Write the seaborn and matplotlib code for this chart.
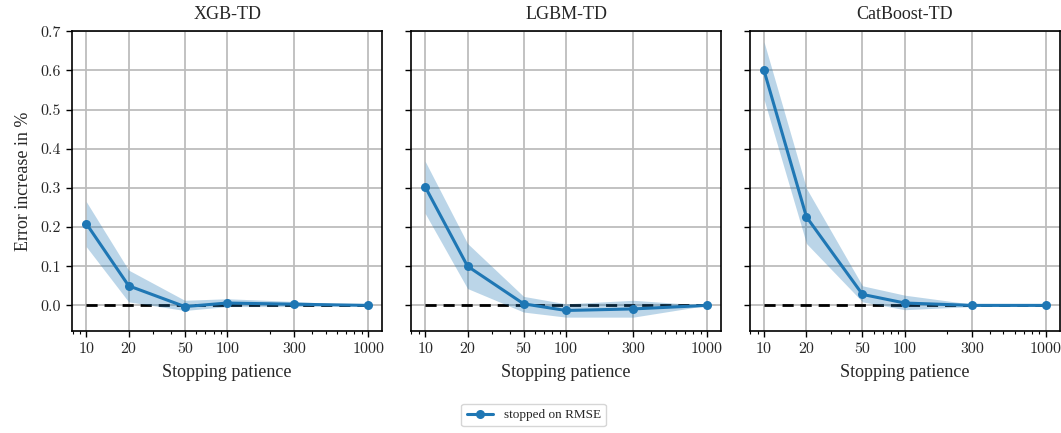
import numpy as np
import seaborn as sns
import matplotlib.pyplot as plt
from matplotlib.ticker import FixedLocator, FixedFormatter, LogLocator, NullFormatter

# values
patience = [10, 20, 50, 100, 300, 1000]
models = ["XGB-TD", "LGBM-TD", "CatBoost-TD"]
xgb_mean = [0.209, 0.050, -0.003, 0.006, 0.003, 0.0]
xgb_lo = [0.150, 0.009, -0.013, -0.003, -0.003, 0.0]
xgb_hi = [0.265, 0.090, 0.013, 0.017, 0.010, 0.0]
lgbm_mean = [0.303, 0.100, 0.004, -0.013, -0.009, 0.0]
lgbm_lo = [0.235, 0.043, -0.017, -0.030, -0.030, 0.0]
lgbm_hi = [0.368, 0.158, 0.023, 0.004, 0.013, 0.0]
cat_mean = [0.600, 0.226, 0.028, 0.006, 0.0, 0.0]
cat_lo = [0.526, 0.158, 0.009, -0.011, -0.003, 0.0]
cat_hi = [0.673, 0.299, 0.050, 0.026, 0.003, 0.0]
xtick_labels = ["10", "20", "50", "100", "300", "1000"]
ytick_vals = [0.0, 0.1, 0.2, 0.3, 0.4, 0.5, 0.6, 0.7]

sns.set_style("ticks")
plt.rcParams['font.family'] = ['Liberation Serif', 'DejaVu Serif']

series = [(xgb_mean, xgb_lo, xgb_hi), (lgbm_mean, lgbm_lo, lgbm_hi), (cat_mean, cat_lo, cat_hi)]
blue = "#1f77b4"

fig, axes = plt.subplots(1, 3, figsize=(10.61, 4.33), dpi=100, sharey=True)
fig.subplots_adjust(left=0.068, right=0.999, top=0.928, bottom=0.235, wspace=0.093)

for ax, name, (m, lo, hi) in zip(axes, models, series):
    ax.set_xscale("log")
    ax.grid(True, which="major", color="#bdbdbd", lw=1.3)
    ax.set_axisbelow(True)
    ax.plot([patience[0], patience[-1]], [0, 0], color="k", ls="--", lw=2, dashes=(4, 2.5), zorder=2)
    ax.fill_between(patience, lo, hi, color=blue, alpha=0.3, lw=0, zorder=3)
    sns.lineplot(x=patience, y=m, ax=ax, color=blue, lw=2.2, marker="o", markersize=6.5,
                 markeredgewidth=0, label="stopped on RMSE", legend=False, zorder=4)
    ax.set_ylim(-0.066, 0.7)
    ax.xaxis.set_major_locator(FixedLocator(patience))
    ax.xaxis.set_major_formatter(FixedFormatter(xtick_labels))
    ax.xaxis.set_minor_locator(LogLocator(base=10, subs=np.arange(2, 10), numticks=20))
    ax.xaxis.set_minor_formatter(NullFormatter())
    ax.yaxis.set_major_locator(FixedLocator(ytick_vals))
    ax.yaxis.set_major_formatter(FixedFormatter(["%.1f" % v for v in ytick_vals]))
    ax.tick_params(which="major", length=4.5, width=1, labelsize=11.5, color="k")
    ax.tick_params(which="minor", length=2.5, width=0.8, color="k")
    for lab in ax.get_xticklabels() + ax.get_yticklabels():
        lab.set_fontfamily("cmr10")
    for s in ax.spines.values():
        s.set_color("k")
        s.set_linewidth(1.2)
    ax.set_title(name, fontsize=13, pad=9)
    ax.set_xlabel("Stopping patience", fontsize=13, labelpad=6)

axes[0].set_ylabel("Error increase in %", fontsize=13, labelpad=6)

handles, labels = axes[0].get_legend_handles_labels()
fig.legend(handles, labels, loc="lower center", bbox_to_anchor=(0.503, 0.0), ncol=1,
           fontsize=9.5, frameon=True, edgecolor="#cccccc", fancybox=True)

fig.savefig("out.png", dpi=100)
